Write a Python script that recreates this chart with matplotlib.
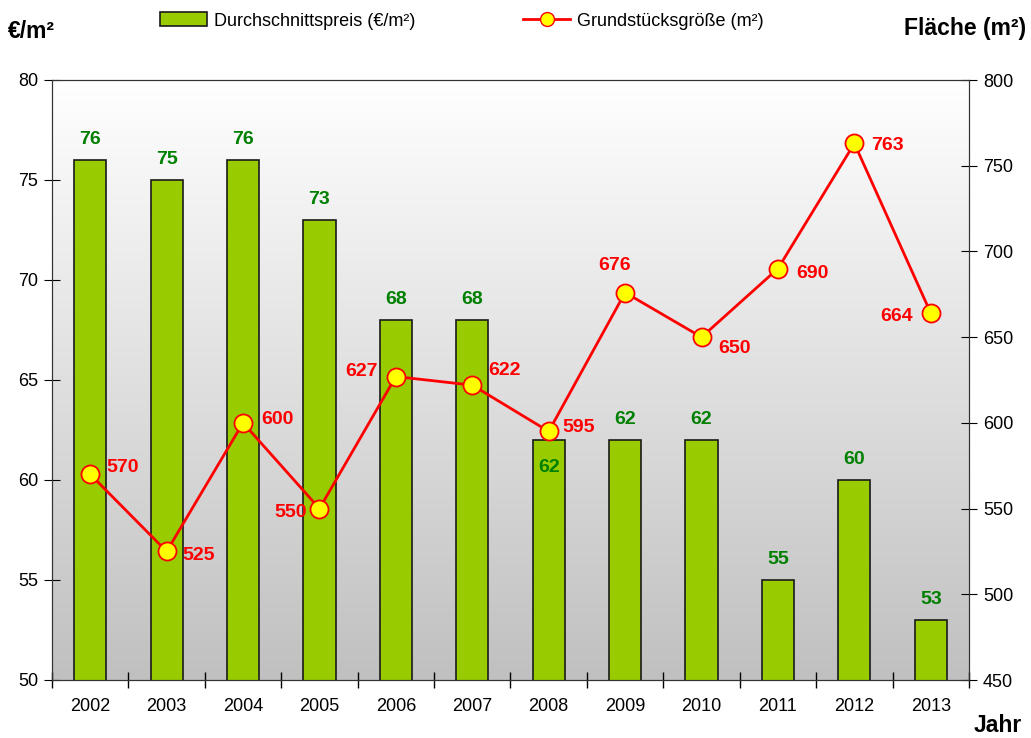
import matplotlib.pyplot as plt
from matplotlib.lines import Line2D
from matplotlib.patches import Patch
import numpy as np

plt.rcParams['font.family'] = ['Liberation Sans', 'DejaVu Sans']

# data
years = ['2002', '2003', '2004', '2005', '2006', '2007', '2008', '2009', '2010', '2011', '2012', '2013']
price = [76, 75, 76, 73, 68, 68, 62, 62, 62, 55, 60, 53]
area = [570, 525, 600, 550, 627, 622, 595, 676, 650, 690, 763, 664]

# label placement (pixel offsets from the marker / bar top)
area_offsets = [(32, 7), (32, -4), (34, 3), (-29, -4), (-34, 5), (32, 15), (30, 4), (-11, 27), (33, -11), (34, -5), (33, -2), (-34, -3)]
price_offsets = [20] * 12
price_offsets[6] = -28

green = '#99CC00'
label_green = '#008000'
red = '#FF0000'

fig = plt.figure(figsize=(10.31, 7.38), dpi=100)
ax = fig.add_axes([52 / 1031, 58 / 738, 917 / 1031, 600 / 738])
x = np.arange(len(years))

# gradient background
grad = np.linspace(1.0, 0.0, 256).reshape(-1, 1)
ax.imshow(grad, extent=[0, 1, 0, 1], transform=ax.transAxes, aspect='auto',
          cmap=plt.matplotlib.colors.LinearSegmentedColormap.from_list('g', ['#C0C0C0', '#FFFFFF']),
          zorder=-5)

ax.bar(x, price, width=0.42, color=green, edgecolor='#1a1a1a', linewidth=1.2, zorder=2)
ax.set_xlim(-0.5, len(years) - 0.5)
ax.set_ylim(50, 80)
ax.set_yticks(range(50, 81, 5))
ax.set_xticks(x)
ax.set_xticklabels(years)
ax.set_xticks(np.arange(-0.5, len(years), 1), minor=True)
ax.tick_params(axis='x', which='major', length=0, labelsize=13, pad=13)
ax.tick_params(axis='x', which='minor', direction='inout', length=12, width=1)
ax.tick_params(axis='y', direction='inout', length=12, labelsize=13, pad=4)

for i, v in enumerate(price):
    ax.annotate(str(v), (x[i], v), textcoords='offset pixels', xytext=(0, price_offsets[i]),
                ha='center', va='center', color=label_green, fontsize=14, fontweight='bold', zorder=6)

ax2 = ax.twinx()
ax2.plot(x, area, color=red, linewidth=2, marker='o', markersize=13,
         markerfacecolor='#FFFF00', markeredgecolor=red, markeredgewidth=1.3, zorder=4)
ax2.set_ylim(450, 800)
ax2.set_yticks(range(450, 801, 50))
ax2.tick_params(axis='y', direction='inout', length=12, labelsize=13, pad=4)

for i, v in enumerate(area):
    dx, dy = area_offsets[i]
    ax2.annotate(str(v), (x[i], v), textcoords='offset pixels', xytext=(dx, dy),
                 ha='center', va='center', color=red, fontsize=14, fontweight='bold')

for a in (ax, ax2):
    for s in a.spines.values():
        s.set_color('#333333')

fig.text(8 / 1031, 1 - 31 / 738, '€/m²', fontsize=16.5, fontweight='bold', va='center', ha='left')
fig.text(1026 / 1031, 1 - 28 / 738, 'Fläche (m²)', fontsize=16.5, fontweight='bold', va='center', ha='right')
fig.text(1022 / 1031, 1 - 725 / 738, 'Jahr', fontsize=16.5, fontweight='bold', va='center', ha='right')

bar_handle = Patch(facecolor=green, edgecolor='#1a1a1a', linewidth=1.2)
line_handle = Line2D([], [], color=red, linewidth=2, marker='o', markersize=10,
                     markerfacecolor='#FFFF00', markeredgecolor=red)
fig.legend([bar_handle], ['Durchschnittspreis (€/m²)'], loc='center left',
           bbox_to_anchor=(144 / 1031, 1 - 21 / 738), frameon=False, fontsize=13,
           handlelength=2.6, handleheight=0.8, handletextpad=0.35)
fig.legend([line_handle], ['Grundstücksgröße (m²)'], loc='center left',
           bbox_to_anchor=(507 / 1031, 1 - 21 / 738), frameon=False, fontsize=13,
           handlelength=2.6, handletextpad=0.35)

fig.savefig('out.png', dpi=100)
